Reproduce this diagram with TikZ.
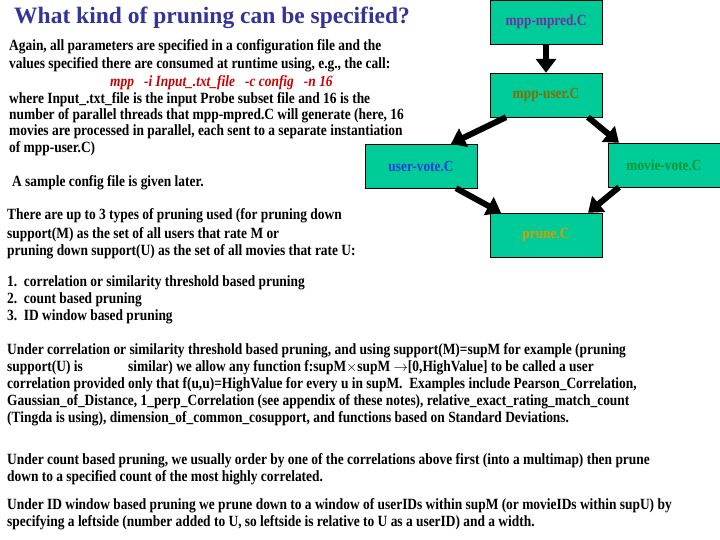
\documentclass[tikz,border=0pt]{standalone}
\usepackage{fontspec}
\setmainfont{Liberation Serif}[FakeStretch=0.86]
\newfontfamily\ttlfont{Liberation Serif}
\usetikzlibrary{arrows.meta}
\definecolor{boxfill}{HTML}{00CC99}
\definecolor{ttl}{HTML}{333399}
\begin{document}
\begin{tikzpicture}[x=1pt,y=-1pt,
  box/.style={draw=black,fill=boxfill,minimum width=112pt,minimum height=44pt,inner sep=0pt,font=\fontsize{15.5}{17}\bfseries\selectfont},
  ln/.style={anchor=west,inner sep=0pt,font=\fontsize{15.6}{17}\bfseries\selectfont},
  arr/.style={line width=6pt,-{Triangle[length=14pt,width=20pt]}}]
\useasboundingbox (0,0) rectangle (720,540);
\node[anchor=west,inner sep=0pt,text=ttl,font=\fontsize{23.5}{26}\ttlfont\bfseries\selectfont] (t) at (14,18) {What kind of pruning can be specified?};
\node[box,text={rgb,255:red,112;green,48;blue,160}] (a) at (546,22) {mpp-mpred.C};
\node[box,text={rgb,255:red,128;green,112;blue,0}] (b) at (546,95) {mpp-user.C};
\node[box,text={rgb,255:red,40;green,60;blue,220}] (c) at (421,166) {user-vote.C};
\node[box,text={rgb,255:red,0;green,150;blue,50}] (d) at (664,165) {movie-vote.C};
\node[box,text={rgb,255:red,210;green,160;blue,0}] (e) at (546,235) {prune.C};
\draw[arr] (a.south) -- (b.north);
\draw[arr] ([xshift=-40pt]b.south) -- ([xshift=30pt]c.north);
\draw[arr] ([xshift=42pt]b.south) -- ([xshift=-45pt]d.north);
\draw[arr] ([xshift=35pt]c.south) -- ([xshift=-45pt]e.north);
\draw[arr] ([xshift=-45pt]d.south) -- ([xshift=42pt]e.north);
\node[ln] (l1) at (9,47) {Again, all parameters are specified in a configuration file and the};
\node[ln] (l2) at (9,65) {values specified there are consumed at runtime using, e.g., the call:};
\node[ln,text={rgb,255:red,200;green,0;blue,0},font=\fontsize{15.6}{17}\bfseries\itshape\selectfont] (l3) at (110,83) {mpp\ \ \ -i Input\_.txt\_file\ \ \ -c config\ \ \ -n 16};
\node[ln] (l4) at (9,100) {where Input\_.txt\_file is the input Probe subset file and 16 is the};
\node[ln] (l5) at (9,116) {number of parallel threads that mpp-mpred.C will generate (here, 16};
\node[ln] (l6) at (9,132) {movies are processed in parallel, each sent to a separate instantiation};
\node[ln] (l7) at (9,149) {of mpp-user.C)};
\node[ln] (l8) at (12,183) {A sample config file is given later.};
\node[ln] (l9) at (7,216) {There are up to 3 types of pruning used (for pruning down};
\node[ln] (l10) at (7,235) {support(M) as the set of all users that rate M or};
\node[ln] (l11) at (7,252) {pruning down support(U) as the set of all movies that rate U:};
\node[ln] (m1) at (7,283) {1.\ \ correlation or similarity threshold based pruning};
\node[ln] (m2) at (7,300) {2.\ \ count based pruning};
\node[ln] (m3) at (7,317) {3.\ \ ID window based pruning};
\node[ln] (p1) at (7,351) {Under correlation or similarity threshold based pruning, and using support(M)=supM for example (pruning};
\node[ln] (p2a) at (7,368) {support(U) is};
\node[ln] (p2b) at (128,368) {similar) we allow any function f:supM$\times$supM $\rightarrow$[0,HighValue] to be called a user};
\node[ln] (p3) at (7,385) {correlation provided only that f(u,u)=HighValue for every u in supM.\ \ Examples include Pearson\_Correlation,};
\node[ln] (p4) at (7,402) {Gaussian\_of\_Distance, 1\_perp\_Correlation (see appendix of these notes), relative\_exact\_rating\_match\_count};
\node[ln] (p5) at (7,419) {(Tingda is using), dimension\_of\_common\_cosupport, and functions based on Standard Deviations.};
\node[ln] (q1) at (7,461) {Under count based pruning, we usually order by one of the correlations above first (into a multimap) then prune};
\node[ln] (q2) at (7,478) {down to a specified count of the most highly correlated.};
\node[ln] (r1) at (7,506) {Under ID window based pruning we prune down to a window of userIDs within supM (or movieIDs within supU) by};
\node[ln] (r2) at (7,523) {specifying a leftside (number added to U, so leftside is relative to U as a userID) and a width.};
\end{tikzpicture}
\end{document}
